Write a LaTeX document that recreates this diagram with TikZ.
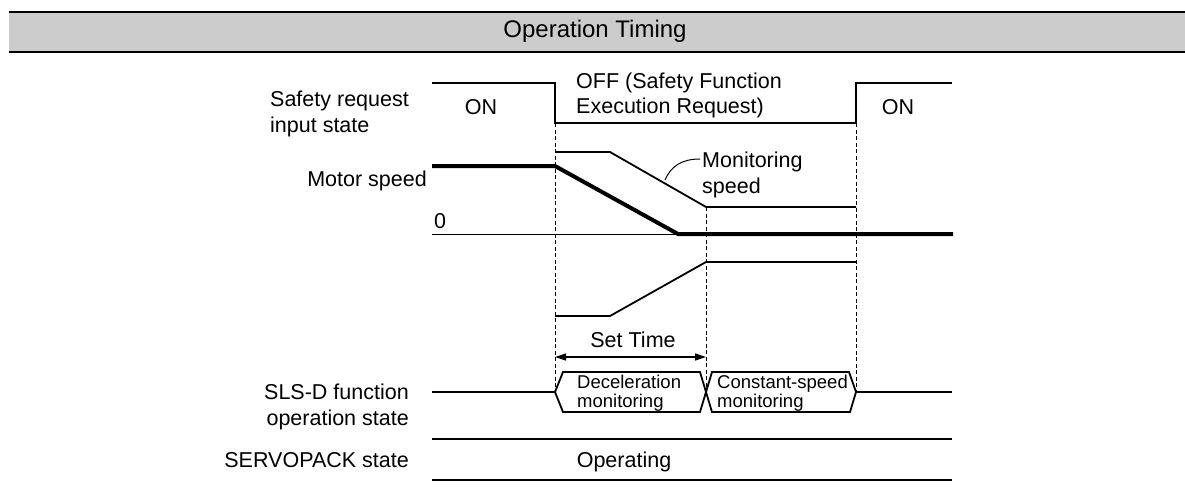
\documentclass[tikz,border=0pt]{standalone}
\usepackage{fontspec}
\setmainfont{Liberation Sans}
\usetikzlibrary{arrows.meta}
\begin{document}
\begin{tikzpicture}[x=1pt,y=-1pt,
  lbl/.style={inner sep=0pt, font=\fontsize{21.5}{25.5}\selectfont},
  hexlbl/.style={inner sep=0pt, align=left, font=\fontsize{18.5}{19}\selectfont},
  sigline/.style={line width=1.8pt, line join=miter},
  zeroline/.style={line width=1pt},
  spdline/.style={line width=4pt, line join=round},
  guide/.style={line width=0.9pt, dash pattern=on 4pt off 2.5pt},
  leader/.style={line width=1pt},
  rule/.style={line width=2.2pt},
  span/.style={line width=1.3pt, {Triangle[length=11pt,width=7pt]}-{Triangle[length=11pt,width=7pt]}},
]
\useasboundingbox (0,0) rectangle (1185,501);

% header
\coordinate (hTL) at (9,12);
\coordinate (hTR) at (1185,12);
\coordinate (hBL) at (9,52);
\coordinate (hBR) at (1185,52);
\fill[black!20] (hTL) rectangle (hBR);
\draw[rule] (hTL) -- (hTR);
\draw[rule] (hBL) -- (hBR);
\node[inner sep=0pt, font=\fontsize{24}{28}\selectfont, anchor=base] (title) at (595,37) {Operation Timing};

% labels on the left
\node[lbl, align=left, anchor=west] (lsafety) at (270,114) {Safety request\\input state};
\node[lbl, anchor=base east] (lmotor) at (427,186) {Motor speed};
\node[lbl, anchor=base] (lzero) at (440,228) {0};
\node[lbl, align=right, anchor=east] (lsls) at (409,407) {SLS-D function\\operation state};
\node[lbl, anchor=base east] (lservo) at (409,467) {SERVOPACK state};

% safety request signal
\coordinate (s0) at (432,83);
\coordinate (s1) at (555,83);
\coordinate (s2) at (555,123);
\coordinate (s3) at (856,123);
\coordinate (s4) at (856,83);
\coordinate (s5) at (952,83);
\draw[sigline] (s0) -- (s1) -- (s2) -- (s3) -- (s4) -- (s5);
\node[lbl, anchor=base] (on1) at (481,114) {ON};
\node[lbl, align=left, anchor=west] (off) at (576,95.5) {OFF (Safety Function\\Execution Request)};
\node[lbl, anchor=base] (on2) at (898,114) {ON};

% dashed guides
\coordinate (g1a) at (555,123);
\coordinate (g1b) at (555,392);
\coordinate (g2a) at (706,207);
\coordinate (g2b) at (706,392);
\coordinate (g3a) at (856,123);
\coordinate (g3b) at (856,392);
\draw[guide] (g1a) -- (g1b);
\draw[guide] (g2a) -- (g2b);
\draw[guide] (g3a) -- (g3b);

% zero line and motor speed
\coordinate (z0) at (432,234);
\coordinate (z1) at (678,234);
\draw[zeroline] (z0) -- (z1);
\coordinate (m0) at (432,166);
\coordinate (m1) at (555,166);
\coordinate (m2) at (953,234);
\draw[spdline] (m0) -- (m1) -- (z1) -- (m2);

% monitoring speed limits
\coordinate (u0) at (555,152);
\coordinate (u1) at (610,152);
\coordinate (u2) at (706,207);
\coordinate (u3) at (856,207);
\draw[sigline] (u0) -- (u1) -- (u2) -- (u3);
\coordinate (d0) at (555,316);
\coordinate (d1) at (610,316);
\coordinate (d2) at (706,262);
\coordinate (d3) at (856,262);
\draw[sigline] (d0) -- (d1) -- (d2) -- (d3);
\node[lbl, align=left, anchor=west] (mon) at (702,175) {Monitoring\\speed};
\coordinate (lead0) at (665,180);
\coordinate (lead1) at (700,159);
\draw[leader] (lead0) .. controls (671,166) and (682,159) .. (lead1);

% set time
\coordinate (st0) at (555,357);
\coordinate (st1) at (706,357);
\draw[span] (st0) -- (st1);
\node[lbl, anchor=base] (settime) at (633,347) {Set Time};

% SLS-D state
\coordinate (x0) at (432,392);
\coordinate (x1) at (555,392);
\coordinate (x2) at (706,392);
\coordinate (x3) at (856,392);
\coordinate (x4) at (952,392);
\draw[sigline] (x0) -- (x1);
\draw[sigline] (x1) -- (563,372) -- (700,372) -- (x2) -- (700,412) -- (563,412) -- cycle;
\draw[sigline] (x2) -- (712,372) -- (849,372) -- (x3) -- (850,412) -- (712,412) -- cycle;
\draw[sigline] (x3) -- (x4);
\node[hexlbl, anchor=west] (dec) at (577,393) {Deceleration\\monitoring};
\node[hexlbl, anchor=west] (con) at (717,393) {Constant-speed\\monitoring};

% SERVOPACK state
\coordinate (p0) at (432,439);
\coordinate (p1) at (952,439);
\coordinate (q0) at (432,480);
\coordinate (q1) at (952,480);
\draw[sigline] (p0) -- (p1);
\draw[sigline] (q0) -- (q1);
\node[lbl, anchor=base] (oper) at (624,467) {Operating};
\end{tikzpicture}
\end{document}
